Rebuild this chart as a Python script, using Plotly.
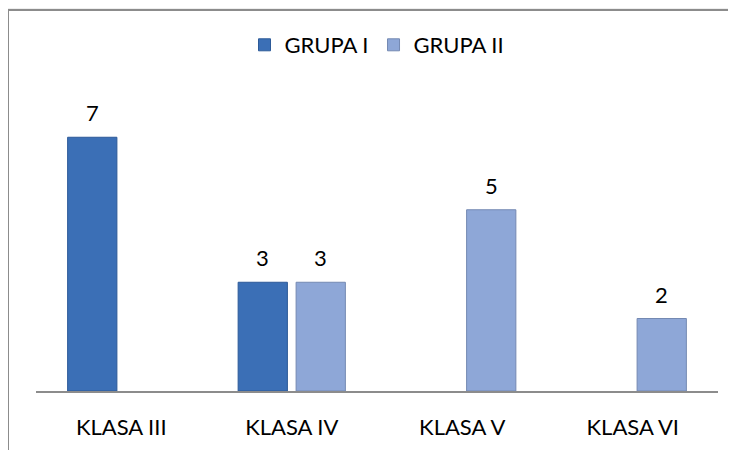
import plotly.graph_objects as go

klasy = ["KLASA III", "KLASA IV", "KLASA V", "KLASA VI"]
grupa_1 = [7, 3, None, None]
grupa_2 = [None, 3, 5, 2]
nazwy = ["GRUPA I", "GRUPA II"]

kolor_1 = "#3b6fb6"
kolor_2 = "#8ea7d7"
czcionka = "Lato"

# strona ma 8 px marginesu body, wiec wszystko przesuwam o 8 px
W, H = 736, 450
L, R, T, B = 28, 26, 93, 67
bargap = 0.32
plot_w = W - L - R
slot = plot_w / len(klasy) * (1 - bargap) / 2

fig = go.Figure()
fig.add_trace(go.Bar(
    x=klasy, y=grupa_1, name=nazwy[0],
    marker=dict(color=kolor_1, line=dict(color="#2d5a98", width=1)),
))
fig.add_trace(go.Bar(
    x=klasy, y=grupa_2, name=nazwy[1],
    marker=dict(color=kolor_2, line=dict(color="#7489b2", width=1)),
))

# etykiety wartosci nad slupkami
for seria, przes in [(grupa_1, -slot / 2), (grupa_2, slot / 2)]:
    for k, v in zip(klasy, seria):
        if v is None:
            continue
        fig.add_annotation(
            x=k, y=v, text=str(v), showarrow=False,
            xshift=przes, yshift=9, yanchor="bottom",
            font=dict(family=czcionka, size=22, color="#000000"),
        )

# ramka wykresu
px = lambda p: (p - 8 - L) / plot_w
py = lambda p: (H - B - (p - 8)) / (H - T - B)
fig.add_shape(
    type="rect", xref="paper", yref="paper",
    x0=px(8), x1=px(770), y0=py(10), y1=py(480),
    line=dict(color="#8c8c8c", width=2), fillcolor="white", layer="below",
)

fig.update_layout(
    width=W, height=H,
    margin=dict(l=L, r=R, t=T, b=B),
    paper_bgcolor="#eeeeee",
    plot_bgcolor="rgba(0,0,0,0)",
    barmode="group",
    bargap=bargap,
    bargroupgap=0.15,
    font=dict(family=czcionka, size=22, color="#000000"),
    showlegend=True,
    legend=dict(
        orientation="h", x=0.5, xanchor="center", y=py(45), yanchor="middle",
        font=dict(family=czcionka, size=22), bgcolor="rgba(0,0,0,0)",
        itemclick=False,
    ),
    xaxis=dict(
        showline=True, linecolor="#8c8c8c", linewidth=2,
        showgrid=False, ticks="", ticklabelstandoff=16,
        tickfont=dict(family=czcionka, size=22),
    ),
    yaxis=dict(range=[0, 8], visible=False, showgrid=False),
)

fig.write_html("out.html")
